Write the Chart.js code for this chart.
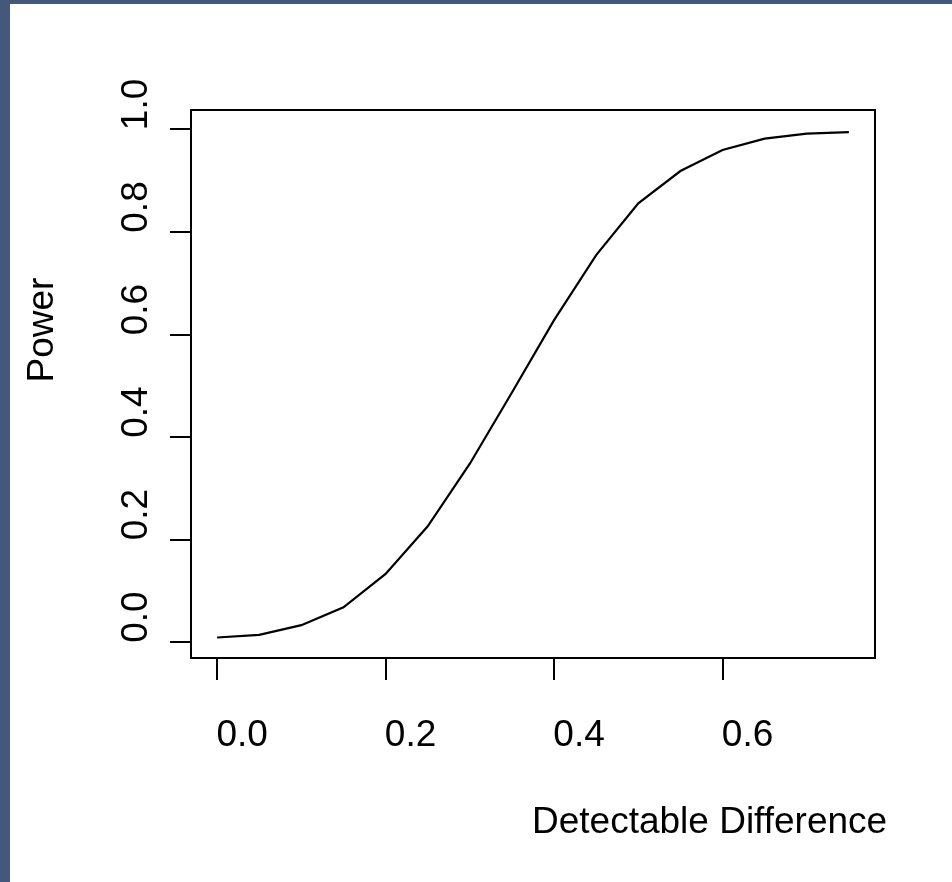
<!DOCTYPE html>
<html>
<head>
<meta charset="utf-8">
<script src="https://cdn.jsdelivr.net/npm/chart.js@4.4.1/dist/chart.umd.min.js"></script>
<style>
  html, body { margin: 0; padding: 0; background: #fff; }
  #wrap { width: 952px; height: 882px; }
</style>
</head>
<body>
<div id="wrap"><canvas id="chart"></canvas></div>
<script>
// detectable difference vs power
const diffs = [0, 0.05, 0.10, 0.15, 0.20, 0.25, 0.30, 0.35, 0.40, 0.45, 0.50, 0.55, 0.60, 0.65, 0.70, 0.75];
const power = [0.009, 0.014, 0.033, 0.068, 0.133, 0.226, 0.348, 0.487, 0.628, 0.755, 0.856, 0.919, 0.960, 0.982, 0.992, 0.995];
const xTicks = [0, 0.2, 0.4, 0.6];
const yTicks = [0, 0.2, 0.4, 0.6, 0.8, 1.0];
const xTitle = 'Detectable Difference';
const yTitle = 'Power';

const font = '37px "Liberation Sans", Arial, sans-serif';

// R-style frame, page border and all the text
const rPlot = {
  id: 'rPlot',
  beforeDraw(chart) {
    const c = chart.ctx;
    c.save();
    c.fillStyle = '#44587c';
    c.fillRect(0, 0, chart.width, chart.height);
    c.fillStyle = '#fff';
    c.fillRect(10, 4, chart.width - 10, chart.height - 4);
    c.restore();
  },
  afterDraw(chart) {
    const c = chart.ctx;
    const a = chart.chartArea;
    const xs = chart.scales.x, ys = chart.scales.y;
    c.save();
    c.strokeStyle = '#000';
    c.lineWidth = 2;
    c.strokeRect(a.left, a.top, a.right - a.left, a.bottom - a.top);

    c.fillStyle = '#000';
    c.font = font;
    c.textAlign = 'center';
    c.textBaseline = 'alphabetic';
    xs.ticks.forEach(t => {
      c.fillText(t.value.toFixed(1), xs.getPixelForValue(t.value) + 25, 746);
    });
    ys.ticks.forEach(t => {
      c.save();
      c.translate(147, ys.getPixelForValue(t.value) - 25);
      c.rotate(-Math.PI / 2);
      c.fillText(t.value.toFixed(1), 0, 0);
      c.restore();
    });

    c.textAlign = 'left';
    c.fillText(xTitle, 532, 833);
    c.save();
    c.translate(53, 330);
    c.rotate(-Math.PI / 2);
    c.textAlign = 'center';
    c.fillText(yTitle, 0, 0);
    c.restore();
    c.restore();
  }
};

new Chart(document.getElementById('chart'), {
  type: 'line',
  data: {
    datasets: [{
      data: diffs.map((d, i) => ({ x: d, y: power[i] })),
      borderColor: '#000',
      borderWidth: 2.2,
      pointRadius: 0,
      tension: 0,
      fill: false
    }]
  },
  options: {
    responsive: true,
    maintainAspectRatio: false,
    animation: false,
    devicePixelRatio: 1,
    layout: { padding: { left: 0, top: 110, right: 77, bottom: 202 } },
    plugins: { legend: { display: false }, tooltip: { enabled: false } },
    scales: {
      x: {
        type: 'linear',
        min: -0.031,
        max: 0.781,
        afterBuildTicks: s => { s.ticks = xTicks.map(v => ({ value: v })); },
        afterFit: s => { s.height = 22; },
        ticks: { display: false },
        border: { display: false },
        grid: { drawOnChartArea: false, drawTicks: true, tickLength: 22, color: '#000', lineWidth: 2 }
      },
      y: {
        type: 'linear',
        min: -0.031,
        max: 1.038,
        afterBuildTicks: s => { s.ticks = yTicks.map(v => ({ value: v })); },
        afterFit: s => { s.width = 191; },
        ticks: { display: false },
        border: { display: false },
        grid: { drawOnChartArea: false, drawTicks: true, tickLength: 21, color: '#000', lineWidth: 2 }
      }
    }
  },
  plugins: [rPlot]
});
</script>
</body>
</html>
